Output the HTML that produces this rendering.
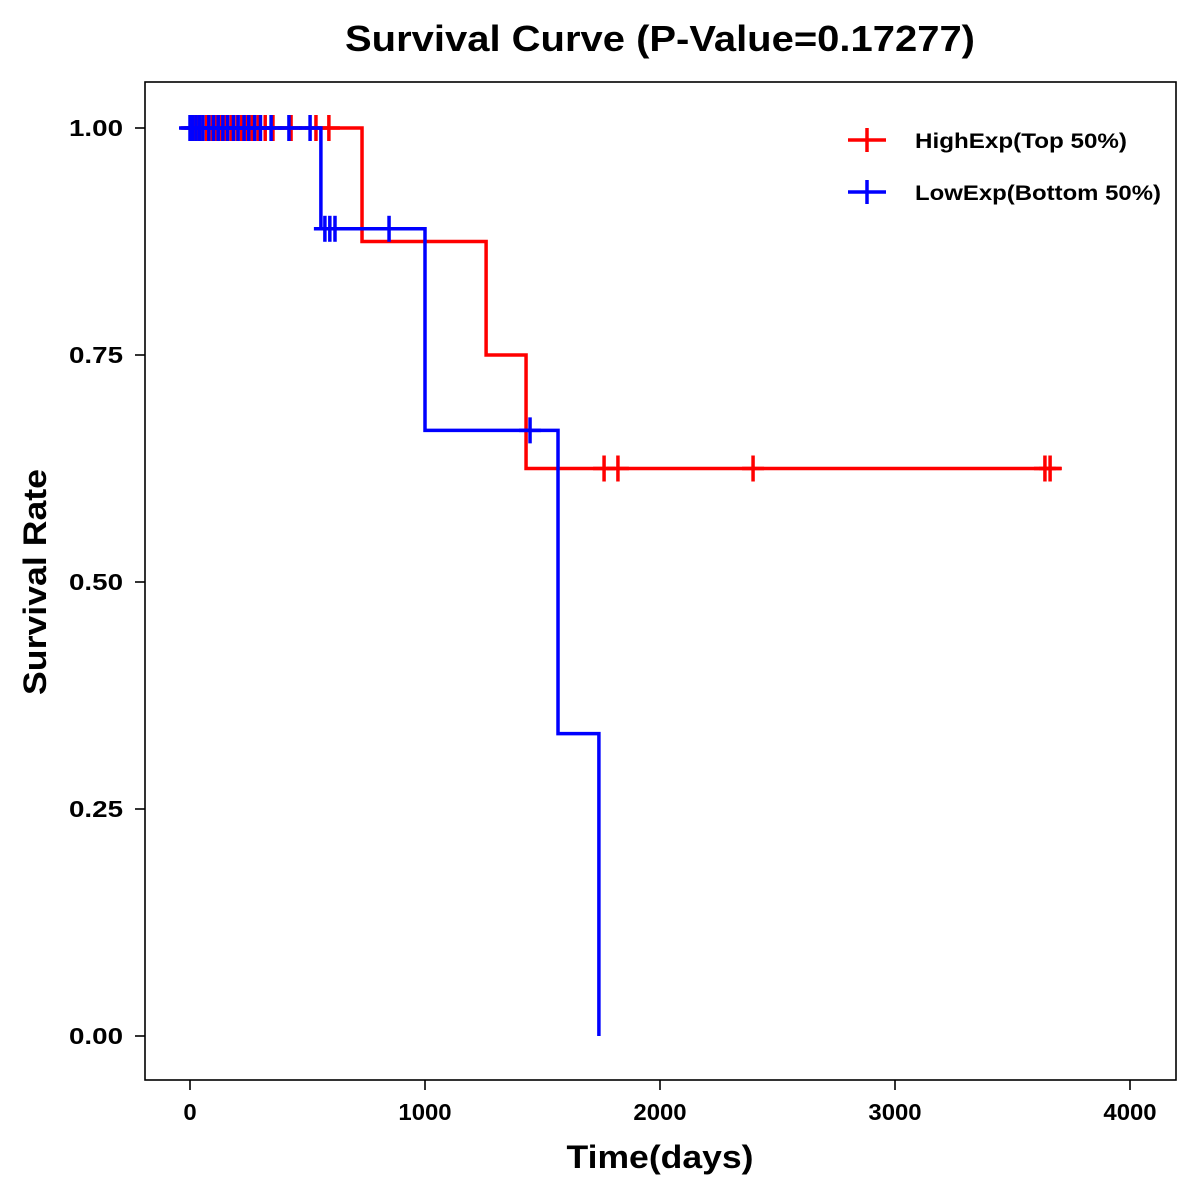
<!DOCTYPE html>
<html><head><meta charset="utf-8"><style>
body{margin:0;background:#fff;}
svg{display:block;font-family:"Liberation Sans",Arial,sans-serif;font-weight:bold;}
</style></head><body>
<svg id="chart" width="1200" height="1200" viewBox="0 0 1200 1200">
<rect width="1200" height="1200" fill="#fff"/>
<text x="660" y="51" font-size="36" text-anchor="middle" textLength="630" lengthAdjust="spacingAndGlyphs">Survival Curve (P-Value=0.17277)</text>
<rect x="145" y="82" width="1031" height="998" fill="none" stroke="#000" stroke-width="1.6"/>
<g id="axes"></g>
<g id="series"></g>
<text x="660" y="1168" font-size="32" text-anchor="middle" textLength="187" lengthAdjust="spacingAndGlyphs">Time(days)</text>
<text transform="translate(46,582) rotate(-90)" font-size="32" text-anchor="middle" textLength="226" lengthAdjust="spacingAndGlyphs">Survival Rate</text>
<g>
<g>
<line x1="848" y1="140" x2="886" y2="140" stroke="#f00" stroke-width="3.5"/>
<line x1="867" y1="128" x2="867" y2="152" stroke="#f00" stroke-width="3.5"/>
<text x="915" y="148" font-size="21" textLength="212" lengthAdjust="spacingAndGlyphs">HighExp(Top 50%)</text></g>
<g>
<line x1="848" y1="192" x2="886" y2="192" stroke="#00f" stroke-width="3.5"/>
<line x1="867" y1="180" x2="867" y2="204" stroke="#00f" stroke-width="3.5"/>
<text x="915" y="200" font-size="21" textLength="246" lengthAdjust="spacingAndGlyphs">LowExp(Bottom 50%)</text></g>
</g>
</svg>
<script>
const xTicks=[0,1000,2000,3000,4000];
const yTicks=[0,0.25,0.5,0.75,1.0];
const yTickLabels=["0.00","0.25","0.50","0.75","1.00"];
const highEventTimes=[732,1260,1430];
const highEventSurv=[0.875,0.75,0.625];
const highEndTime=3710;
const highCensorTimes=[5,20,35,50,70,95,110,130,150,175,200,220,240,265,290,320,353,430,536,591,1762,1821,2396,3638,3660];
const lowEventTimes=[557,1000,1566,1740];
const lowEventSurv=[0.889,0.667,0.333,0];
const lowEndTime=1740;
const lowCensorTimes=[0,10,25,40,55,80,100,120,140,160,185,205,230,250,275,300,345,421,511,574,595,617,847,1447];
const NS="http://www.w3.org/2000/svg";
const X=t=>190+t*0.235;
const Y=s=>1036-s*908;
const axes=document.getElementById('axes');
const series=document.getElementById('series');
function mk(tag,attrs,parent){const e=document.createElementNS(NS,tag);for(const k in attrs)e.setAttribute(k,attrs[k]);parent.appendChild(e);return e;}
xTicks.forEach(t=>{
  const l=mk('line',{x1:X(t),x2:X(t),y1:1080,y2:1090,stroke:'#000','stroke-width':1.6},axes);
  
  
  const s=String(t);
  const tx=mk('text',{x:X(t),y:1120,'font-size':23,'text-anchor':'middle',textLength:s.length*13.3,lengthAdjust:'spacingAndGlyphs'},axes);
  tx.textContent=s;
  
  
});
yTicks.forEach((v,i)=>{
  const l=mk('line',{x1:135,x2:145,y1:Y(v),y2:Y(v),stroke:'#000','stroke-width':1.6},axes);
  
  
  const tx=mk('text',{x:123,y:Y(v)+8,'font-size':23,'text-anchor':'end',textLength:54,lengthAdjust:'spacingAndGlyphs'},axes);
  tx.textContent=yTickLabels[i];
  
  
});
function survAt(t,times,surv){let s=1;for(let i=0;i<times.length;i++){if(t>=times[i])s=surv[i];}return s;}
function drawSeries(times,surv,end,cens,color,name){
  let d='M'+X(0)+','+Y(1);
  times.forEach((t,i)=>{d+=' H'+X(t)+' V'+Y(surv[i]);});
  d+=' H'+X(end);
  const p=mk('path',{d:d,fill:'none',stroke:color,'stroke-width':3.5},series);
  
  
  cens.forEach(t=>{
    const y=Y(survAt(t,times,surv));
    const g=mk('g',{},series);
    
    
    mk('line',{x1:X(t)-11,x2:X(t)+11,y1:y,y2:y,stroke:color,'stroke-width':3.5},g);
    mk('line',{x1:X(t),x2:X(t),y1:y-13,y2:y+13,stroke:color,'stroke-width':3.5},g);
  });
}
drawSeries(highEventTimes,highEventSurv,highEndTime,highCensorTimes,'#f00','high-exp');
drawSeries(lowEventTimes,lowEventSurv,lowEndTime,lowCensorTimes,'#00f','low-exp');
</script>
</body></html>
